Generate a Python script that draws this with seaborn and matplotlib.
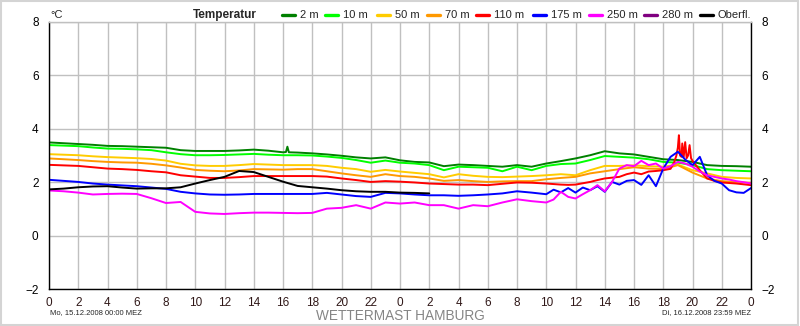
import matplotlib
matplotlib.use("Agg")
import matplotlib.pyplot as plt
import seaborn as sns
import pandas as pd
from matplotlib.lines import Line2D
from matplotlib.patches import Rectangle

# Time axis: hours since Mo 15.12.2008 00:00 MEZ
hours = list(range(49))
hours_2m = list(range(17)) + [16.2, 16.3, 16.4] + list(range(17, 49))
hours_surface = list(range(27))
hours_mixed = list(range(34)) + [34 + 0.5 * i for i in range(29)]
hours_110m = (list(range(34)) + [34 + 0.5 * i for i in range(18)]
              + [42.75, 42.9, 43.0, 43.07, 43.15, 43.25, 43.3, 43.4, 43.5, 43.6,
                 43.7, 43.8, 43.9, 44.0]
              + [44.5 + 0.5 * i for i in range(8)])

t_2m = [3.49, 3.46, 3.43, 3.40, 3.36, 3.35, 3.33, 3.31, 3.29, 3.20, 3.17, 3.17, 3.17,
        3.19, 3.22, 3.18, 3.12, 3.13, 3.33, 3.12, 3.11, 3.08, 3.04, 2.99, 2.93, 2.89,
        2.93, 2.82, 2.76, 2.74, 2.60, 2.66, 2.64, 2.61, 2.58, 2.64, 2.58, 2.70, 2.79,
        2.89, 3.01, 3.16, 3.08, 3.04, 2.95, 2.86, 2.83, 2.76, 2.64, 2.61, 2.60, 2.58]
t_10m = [3.39, 3.37, 3.35, 3.30, 3.26, 3.25, 3.23, 3.20, 3.12, 3.05, 3.01, 3.01, 3.02,
         3.04, 3.06, 3.03, 3.01, 3.01, 3.00, 2.96, 2.91, 2.83, 2.73, 2.81, 2.73, 2.70,
         2.64, 2.45, 2.58, 2.56, 2.54, 2.41, 2.58, 2.45, 2.61, 2.68, 2.70, 2.83, 2.98,
         2.95, 2.92, 2.86, 2.76, 2.73, 2.64, 2.49, 2.45, 2.43, 2.41]
t_50m = [3.05, 3.03, 3.01, 2.97, 2.94, 2.92, 2.90, 2.87, 2.81, 2.69, 2.63, 2.61, 2.61,
         2.64, 2.68, 2.66, 2.64, 2.64, 2.64, 2.61, 2.54, 2.49, 2.39, 2.46, 2.40, 2.35,
         2.30, 2.18, 2.30, 2.24, 2.20, 2.19, 2.21, 2.23, 2.26, 2.30, 2.26, 2.45, 2.61,
         2.61, 2.63, 2.60, 2.58, 2.66, 2.45, 2.33, 2.20, 2.16, 2.14]
t_70m = [2.89, 2.86, 2.83, 2.79, 2.76, 2.74, 2.73, 2.69, 2.63, 2.55, 2.46, 2.43, 2.41,
         2.44, 2.49, 2.48, 2.47, 2.49, 2.49, 2.41, 2.33, 2.26, 2.20, 2.30, 2.23, 2.20,
         2.14, 2.05, 2.08, 2.04, 2.01, 2.03, 2.04, 2.04, 2.11, 2.16, 2.20, 2.33, 2.41,
         2.49, 2.56, 2.51, 2.49, 2.64, 2.36, 2.14, 2.04, 2.00, 1.98]
t_110m = [2.65, 2.63, 2.61, 2.56, 2.51, 2.49, 2.46, 2.41, 2.37, 2.26, 2.21, 2.16, 2.16,
          2.19, 2.23, 2.23, 2.23, 2.23, 2.23, 2.21, 2.14, 2.08, 2.01, 2.04, 2.02, 1.99,
          1.95, 1.93, 1.91, 1.91, 1.89, 1.94, 1.99, 1.98,
          1.95, 1.93, 1.91, 1.90, 1.91, 1.96, 2.01, 2.08, 2.14, 2.17, 2.20, 2.30, 2.36,
          2.30, 2.40, 2.42, 2.45, 2.50,
          2.75, 3.00, 3.30, 3.76, 3.00, 2.95, 3.45, 2.95, 3.50, 2.90, 3.00, 3.39, 2.90,
          2.80,
          2.45, 2.14, 2.05, 1.99, 1.97, 1.95, 1.92, 1.89]
t_175m = [2.09, 2.05, 2.01, 1.95, 1.91, 1.88, 1.85, 1.80, 1.75, 1.64, 1.58, 1.54, 1.53,
          1.54, 1.56, 1.56, 1.56, 1.56, 1.56, 1.60, 1.54, 1.48, 1.45, 1.60, 1.58, 1.54,
          1.51, 1.51, 1.49, 1.51, 1.54, 1.58, 1.66, 1.61,
          1.55, 1.72, 1.62, 1.78, 1.61, 1.80, 1.70, 1.85, 1.64, 2.01, 1.91, 2.05, 2.08,
          1.90, 2.26, 1.85, 2.51, 2.95, 3.14, 2.85, 2.64, 2.95, 2.26, 2.05, 1.95, 1.70,
          1.62, 1.60, 1.78]
t_250m = [1.69, 1.66, 1.61, 1.54, 1.56, 1.57, 1.56, 1.40, 1.22, 1.26, 0.89, 0.83, 0.81,
          0.84, 0.86, 0.86, 0.85, 0.84, 0.85, 1.01, 1.04, 1.14, 1.01, 1.24, 1.20, 1.24,
          1.14, 1.14, 1.01, 1.14, 1.10, 1.24, 1.36, 1.29,
          1.24, 1.35, 1.64, 1.45, 1.39, 1.55, 1.70, 1.89, 1.66, 2.01, 2.51, 2.64, 2.60,
          2.80, 2.64, 2.70, 2.51, 2.60, 2.76, 2.70, 2.58, 2.40, 2.26, 2.20, 2.14, 2.10,
          2.04, 2.00, 1.95]
t_surface = [1.73, 1.76, 1.81, 1.84, 1.85, 1.80, 1.76, 1.77, 1.77, 1.81, 1.95, 2.08, 2.20,
             2.42, 2.38, 2.20, 2.02, 1.86, 1.81, 1.76, 1.70, 1.66, 1.64, 1.64, 1.61, 1.60,
             1.58]

labels = ["2 m", "10 m", "50 m", "70 m", "110 m", "175 m", "250 m", "280 m", "Oberfl."]
colors = ["#008000", "#00ff00", "#ffcc00", "#ff9900", "#ff0000", "#0000ff",
          "#ff00ff", "#800080", "#000000"]
x_ticks = list(range(0, 49, 2))
x_tick_labels = [str(h % 24) for h in x_ticks]
y_ticks = [-2, 0, 2, 4, 6, 8]

series = [
    ("2 m", hours_2m, t_2m), ("10 m", hours, t_10m), ("50 m", hours, t_50m),
    ("70 m", hours, t_70m), ("110 m", hours_110m, t_110m),
    ("175 m", hours_mixed, t_175m), ("250 m", hours_mixed, t_250m),
    ("Oberfl.", hours_surface, t_surface),
]
frames = [pd.DataFrame({"series": name, "hour": t, "temp": v}) for name, t, v in series]
df = pd.concat(frames, ignore_index=True)

sns.set_theme(style="white")
plt.rcParams["font.family"] = ["Liberation Sans", "DejaVu Sans"]

W, H = 800, 326
fig = plt.figure(figsize=(W / 100, H / 100), dpi=100)
fig.patch.set_facecolor("white")
ax = fig.add_axes([49 / W, 1 - 289 / H, 702 / W, 267 / H])

palette = dict(zip(labels, colors))
present = [l for l in labels if l in set(df["series"])]
sns.lineplot(data=df, x="hour", y="temp", hue="series", hue_order=present,
             palette=palette, estimator=None, sort=False, legend=False,
             linewidth=1.4, ax=ax)

ax.set_xlim(0, 48)
ax.set_ylim(-2, 8)
ax.set_xticks(x_ticks)
ax.set_xticklabels(x_tick_labels)
ax.set_yticks(y_ticks)
ax.set_yticklabels([str(v).replace("-", "\u2212") for v in y_ticks])
ax.set_xlabel("")
ax.set_ylabel("")
ax.grid(True, color="#c0c0c0", linewidth=1.0)
ax.set_axisbelow(True)
ax.tick_params(axis="x", length=0, pad=6, labelsize=8.5, labelcolor="#301818")
ax.tick_params(axis="y", length=0, pad=7.5, labelsize=8.5, labelcolor="#000000",
               labelleft=True, labelright=True)
for side in ("left", "right", "bottom"):
    ax.spines[side].set_color("black")
    ax.spines[side].set_linewidth(1.0)
ax.spines["top"].set_color("#c0c0c0")
ax.spines["top"].set_linewidth(1.0)

# Header: unit, title and legend entries
fy = 1 - 15 / H
fig.text(50 / W, fy, "°C", fontsize=8, va="center", ha="left")
fig.text(257 / W, fy, "Temperatur", fontsize=8.5, fontweight="bold",
         va="center", ha="right")
legend_x = [300, 343, 395, 445, 494, 551, 607, 662, 718]
for lab, col, tx in zip(labels, colors, legend_x):
    fig.add_artist(Line2D([(tx - 18) / W, (tx - 5) / W], [fy, fy], color=col,
                          linewidth=2.4, transform=fig.transFigure))
    fig.text(tx / W, fy, lab, fontsize=8, va="center", ha="left")

# Footer
fig.text(50 / W, 1 - 313 / H, "Mo, 15.12.2008 00:00 MEZ", fontsize=5.5,
         va="center", ha="left")
fig.text(751 / W, 1 - 313 / H, "Di, 16.12.2008 23:59 MEZ", fontsize=5.5,
         va="center", ha="right")
fig.text(400 / W, 1 - 316 / H, "WETTERMAST HAMBURG", fontsize=9.8,
         color="#858585", va="center", ha="center")

fig.add_artist(Rectangle((0.001, 0.002), 0.997, 0.995, transform=fig.transFigure,
                         fill=False, edgecolor="#d4d4d4", linewidth=1.5))

fig.savefig("out.png", dpi=100, facecolor="white")
